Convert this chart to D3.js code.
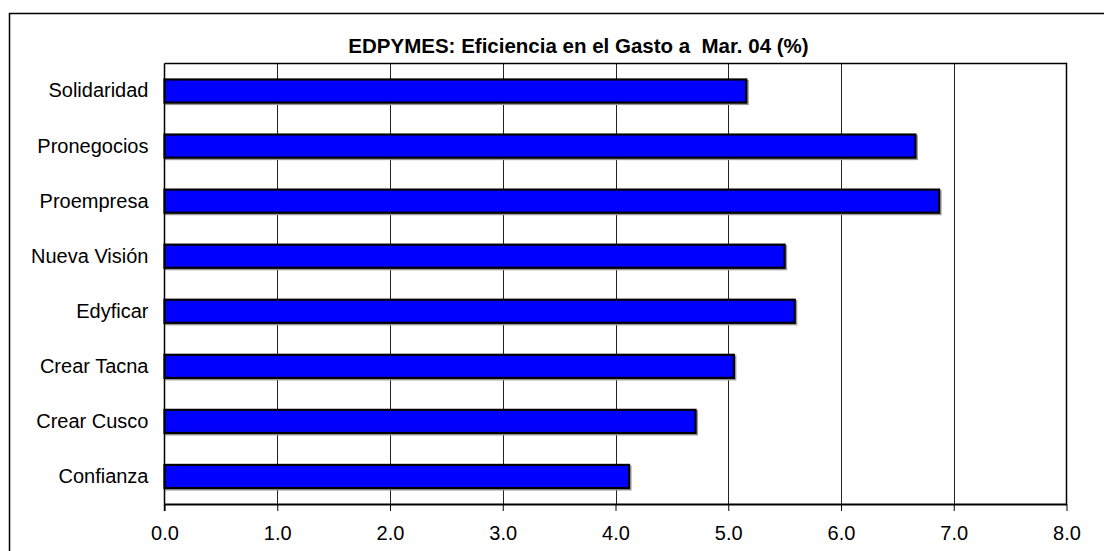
<!DOCTYPE html>
<html>
<head>
<meta charset="utf-8">
<script src="https://cdn.jsdelivr.net/npm/d3@7"></script>
<style>
body{margin:0;background:#fff;}
svg{display:block;font-family:Arial,"Liberation Sans",sans-serif;}
</style>
</head>
<body>
<svg></svg>
<script>
//data
var categories = ['Solidaridad','Pronegocios','Proempresa','Nueva Visión','Edyficar','Crear Tacna','Crear Cusco','Confianza'];
var values = [5.16,6.66,6.87,5.50,5.59,5.05,4.71,4.12];
var ticks = [0,1,2,3,4,5,6,7,8];
var title = 'EDPYMES: Eficiencia en el Gasto a\u00a0 Mar. 04 (%)';

/*********page params************/
var width = 1104;
var height = 551;
var plot = {left:164.5,right:1066.5,top:63.5,bottom:504};
var svg = d3.select('svg')
	.attr('width',width)
	.attr('height',height);

//outer frame (right and bottom run off the picture)
svg.append('rect')
	.attr('x',9.5).attr('y',13.5)
	.attr('width',1110).attr('height',560)
	.attr('fill','none').attr('stroke','#000').attr('stroke-width',1.5);

var xScale = d3.scaleLinear()
	.domain([0,8])
	.range([plot.left,plot.right]);
var yScale = d3.scaleBand()
	.domain(categories)
	.range([plot.top,plot.bottom])
	.paddingInner(0.58)
	.paddingOuter(0.29);

//title
svg.append('text')
	.attr('x',578.5).attr('y',53)
	.attr('text-anchor','middle')
	.attr('font-size',20.5).attr('font-weight','bold')
	.text(title);

//grid lines
svg.append('g').selectAll('line')
	.data(ticks.slice(1,-1))
	.join('line')
	.attr('x1',function(d){return Math.round(xScale(d))+0.5;})
	.attr('x2',function(d){return Math.round(xScale(d))+0.5;})
	.attr('y1',plot.top).attr('y2',plot.bottom)
	.attr('stroke','#222').attr('stroke-width',1);

//plot border: top and right
svg.append('path')
	.attr('d','M'+plot.left+','+plot.top+'H'+plot.right+'V'+plot.bottom)
	.attr('fill','none').attr('stroke','#000').attr('stroke-width',1.5);

//bars with a grey shadow
var barG = svg.append('g');
barG.selectAll('rect.shadow')
	.data(values)
	.join('rect')
	.attr('class','shadow')
	.attr('x',xScale(0)+1.5)
	.attr('y',function(d,i){return yScale(categories[i])+1.5;})
	.attr('width',function(d){return xScale(d)-xScale(0);})
	.attr('height',yScale.bandwidth())
	.attr('fill','none').attr('stroke','#999').attr('stroke-width',2);
barG.selectAll('rect.bar')
	.data(values)
	.join('rect')
	.attr('class','bar')
	.attr('x',xScale(0))
	.attr('y',function(d,i){return yScale(categories[i]);})
	.attr('width',function(d){return xScale(d)-xScale(0);})
	.attr('height',yScale.bandwidth())
	.attr('fill','#0000ff').attr('stroke','#000').attr('stroke-width',2.2);

//x axis
var axisX = d3.axisBottom(xScale)
	.tickValues(ticks)
	.tickFormat(d3.format('.1f'))
	.tickSize(7)
	.tickSizeOuter(0)
	.tickPadding(15);
var axisXG = svg.append('g')
	.attr('transform','translate(0,'+plot.bottom+')')
	.call(axisX);
axisXG.select('.domain').attr('stroke','#000').attr('stroke-width',2);
axisXG.selectAll('.tick line').attr('stroke','#000').attr('stroke-width',1);
axisXG.selectAll('.tick text')
	.attr('font-size',20).attr('fill','#000')
	.attr('font-family','Arial,"Liberation Sans",sans-serif');

//y axis line and labels
var axisY = d3.axisLeft(yScale)
	.tickSize(0)
	.tickPadding(16);
var axisYG = svg.append('g')
	.attr('transform','translate('+plot.left+',0)')
	.call(axisY);
axisYG.select('.domain').attr('stroke','#000').attr('stroke-width',1.5)
	.attr('d','M0,'+plot.top+'V'+(plot.bottom+7));
axisYG.selectAll('.tick text')
	.attr('font-size',20).attr('fill','#000')
	.attr('font-family','Arial,"Liberation Sans",sans-serif');
</script>
</body>
</html>
